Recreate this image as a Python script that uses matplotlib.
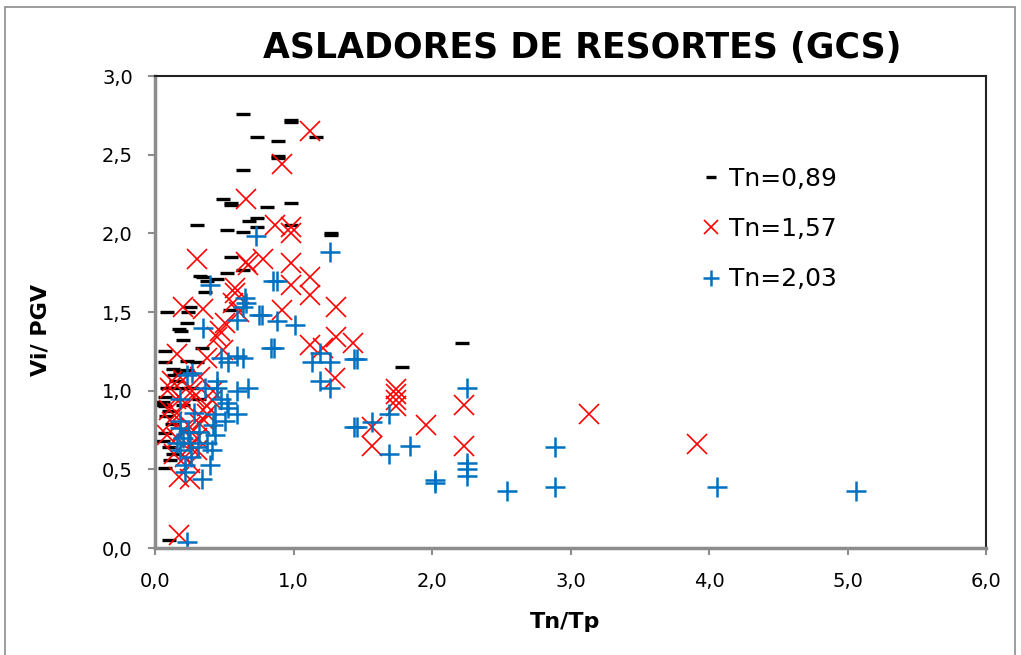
import matplotlib.pyplot as plt
import matplotlib.ticker as ticker
from matplotlib.patches import Rectangle

# --- Data ---
x_089 = [0.635, 0.98, 0.98, 0.74, 1.16, 0.89, 0.89, 0.89, 0.635, 0.49, 0.55, 0.55,
         0.98, 0.81, 0.74, 0.68, 0.74, 0.98, 0.30, 0.52, 0.635, 1.27, 1.27, 0.55,
         0.635, 0.52, 0.325, 0.35, 0.45, 0.375, 0.36, 0.09, 0.25, 0.24, 0.54, 0.23,
         0.17, 0.19, 0.20, 0.07, 0.34, 0.07, 0.23, 0.30, 0.13, 0.23, 0.14, 0.18,
         0.09, 0.18, 0.27, 0.07, 0.06, 0.07, 0.05, 0.20, 0.10, 0.32, 0.07, 0.10,
         0.13, 0.11, 0.07, 0.10, 2.22, 1.78, 0.08, 0.12, 0.06, 0.15]
y_089 = [2.76, 2.72, 2.71, 2.61, 2.61, 2.59, 2.49, 2.48, 2.40, 2.22, 2.19, 2.18,
         2.19, 2.17, 2.10, 2.08, 2.04, 2.05, 2.05, 2.02, 2.01, 2.00, 1.99, 1.85,
         1.77, 1.75, 1.73, 1.72, 1.71, 1.70, 1.63, 1.50, 1.53, 1.50, 1.51, 1.43,
         1.39, 1.38, 1.32, 1.25, 1.27, 1.18, 1.19, 1.18, 1.14, 1.13, 1.10, 1.12,
         1.02, 1.02, 1.02, 0.96, 0.93, 0.90, 0.91, 0.91, 0.87, 0.95, 0.73, 0.64,
         0.60, 0.56, 0.51, 0.05, 1.30, 1.15, 0.84, 0.79, 0.68, 1.06]

x_157 = [1.12, 0.92, 0.655, 0.87, 0.98, 0.98, 0.30, 0.66, 0.78, 0.67, 0.98, 1.12,
         0.58, 0.98, 0.58, 1.12, 1.31, 0.92, 0.20, 0.35, 0.56, 0.61, 0.505, 0.45,
         0.47, 1.12, 1.21, 1.31, 1.43, 1.30, 0.16, 0.375, 0.49, 0.12, 0.20, 0.325,
         0.11, 0.10, 0.16, 0.375, 0.41, 0.375, 0.325, 0.25, 0.16, 0.30, 0.25, 0.25,
         0.17, 0.25, 0.17, 1.74, 1.74, 1.74, 1.74, 1.57, 1.57, 1.96, 2.23, 2.23,
         3.13, 3.91, 0.15, 0.22, 0.28, 0.12, 0.20, 0.30, 0.14, 0.22, 0.35, 0.42,
         0.27, 0.09]
y_157 = [2.65, 2.44, 2.22, 2.05, 2.04, 2.00, 1.84, 1.82, 1.84, 1.80, 1.81, 1.72,
         1.65, 1.67, 1.62, 1.61, 1.53, 1.51, 1.53, 1.52, 1.56, 1.50, 1.43, 1.34,
         1.38, 1.29, 1.27, 1.34, 1.30, 1.08, 1.23, 1.21, 1.26, 1.06, 1.07, 1.09,
         1.02, 0.88, 0.86, 0.90, 0.94, 0.85, 0.79, 0.77, 0.70, 0.70, 0.64, 0.54,
         0.45, 0.44, 0.08, 1.01, 0.98, 0.94, 0.90, 0.77, 0.65, 0.78, 0.91, 0.65,
         0.85, 0.66, 0.95, 0.92, 0.96, 0.80, 0.75, 0.62, 0.60, 0.58, 0.82, 1.00,
         1.00, 0.72]

x_203 = [2.89, 2.89, 2.54, 4.06, 5.06, 2.25, 2.25, 2.25, 2.25, 2.02, 2.02, 1.84,
         1.69, 1.69, 1.57, 1.44, 1.46, 1.44, 1.46, 1.26, 1.26, 1.19, 1.19, 1.13,
         0.84, 0.86, 0.88, 1.01, 0.77, 0.75, 1.26, 0.73, 0.85, 0.88, 0.65, 0.66,
         0.635, 0.59, 0.40, 0.35, 0.48, 0.59, 0.635, 0.53, 0.27, 0.23, 0.45, 0.45,
         0.36, 0.59, 0.67, 0.18, 0.48, 0.52, 0.53, 0.59, 0.43, 0.505, 0.18, 0.18,
         0.24, 0.43, 0.16, 0.25, 0.375, 0.41, 0.18, 0.31, 0.40, 0.22, 0.22, 0.34,
         0.23, 0.28, 0.32, 0.20, 0.26, 0.42]
y_203 = [0.64, 0.39, 0.36, 0.39, 0.36, 1.02, 0.54, 0.50, 0.46, 0.41, 0.43, 0.65,
         0.60, 0.85, 0.80, 0.77, 0.77, 1.20, 1.20, 1.18, 1.02, 1.06, 1.24, 1.18,
         1.27, 1.27, 1.44, 1.42, 1.48, 1.48, 1.88, 1.98, 1.70, 1.70, 1.59, 1.56,
         1.53, 1.45, 1.67, 1.40, 1.21, 1.22, 1.21, 1.18, 1.11, 1.10, 1.06, 1.02,
         1.02, 1.00, 1.02, 0.95, 0.95, 0.92, 0.89, 0.85, 0.85, 0.81, 0.81, 0.76,
         0.74, 0.72, 0.67, 0.67, 0.67, 0.62, 0.62, 0.64, 0.53, 0.53, 0.48, 0.44,
         0.04, 0.86, 0.74, 0.70, 0.58, 0.78]

x_ticks = [0, 1, 2, 3, 4, 5, 6]
y_ticks = [0.0, 0.5, 1.0, 1.5, 2.0, 2.5, 3.0]

# --- Style ---
s089 = {"color": "black", "marker": "_", "ms": 9.5, "mew": 2.4, "ls": "none"}
s157 = {"color": "#FF0000", "marker": "x", "ms": 14, "mew": 1.2, "ls": "none"}
s203 = {"color": "#0070C0", "marker": "+", "ms": 15, "mew": 1.8, "ls": "none"}

plain = ["DejaVu Sans"]

plt.close("all")
fig = plt.figure(figsize=(10.21, 6.55), dpi=100)
ax = fig.add_axes([155 / 1021, 1 - 548 / 655, (986 - 155) / 1021, (548 - 76) / 655])

fig.patches.append(Rectangle((5 / 1021, -0.02), 1010 / 1021, 1 - 7 / 655 + 0.02,
                             transform=fig.transFigure, fill=False,
                             edgecolor="#8c8c8c", lw=1.2))

ax.plot(x_089, y_089, label="Tn=0,89", **s089)
ax.plot(x_157, y_157, label="Tn=1,57", **s157)
ax.plot(x_203, y_203, label="Tn=2,03", **s203)

ax.set_xlim(0, 6)
ax.set_ylim(0, 3)
ax.set_xticks(x_ticks)
ax.set_yticks(y_ticks)
fmt = ticker.FuncFormatter(lambda v, _: f"{v:.1f}".replace(".", ","))
ax.xaxis.set_major_formatter(fmt)
ax.yaxis.set_major_formatter(fmt)
for lab in ax.get_xticklabels() + ax.get_yticklabels():
    lab.set_family(plain)
    lab.set_fontsize(14)
ax.tick_params(axis="both", direction="out", length=5, width=1.5, color="#8c8c8c")
ax.tick_params(axis="x", pad=12)
ax.tick_params(axis="y", pad=11)

for side in ["left", "bottom"]:
    ax.spines[side].set_color("#8c8c8c")
    ax.spines[side].set_linewidth(2.5)
for side in ["top", "right"]:
    ax.spines[side].set_color("#222222")
    ax.spines[side].set_linewidth(1.5)

fig.text(582 / 1021, 1 - 48 / 655, "ASLADORES DE RESORTES (GCS)", ha="center", va="center",
         fontsize=25, fontweight="bold", family=plain)
ax.set_xlabel("Tn/Tp", fontsize=16, fontweight="bold", family=plain)
ax.xaxis.set_label_coords((565 - 155) / 831, -(622 - 548) / 472)
ax.xaxis.label.set_va("center")
ax.set_ylabel("Vi/ PGV", fontsize=16, fontweight="bold", family=plain)
ax.yaxis.set_label_coords((40 - 155) / 831, (548 - 330) / 472)
ax.yaxis.label.set_va("center")

ax.legend(loc="upper left", bbox_to_anchor=(0.63, 0.855), frameon=False,
          prop={"family": plain, "size": 18}, handlelength=0.8, handletextpad=0.3,
          labelspacing=1.05, markerscale=0.75)

fig.savefig("out.png", dpi=100)
plt.close(fig)
